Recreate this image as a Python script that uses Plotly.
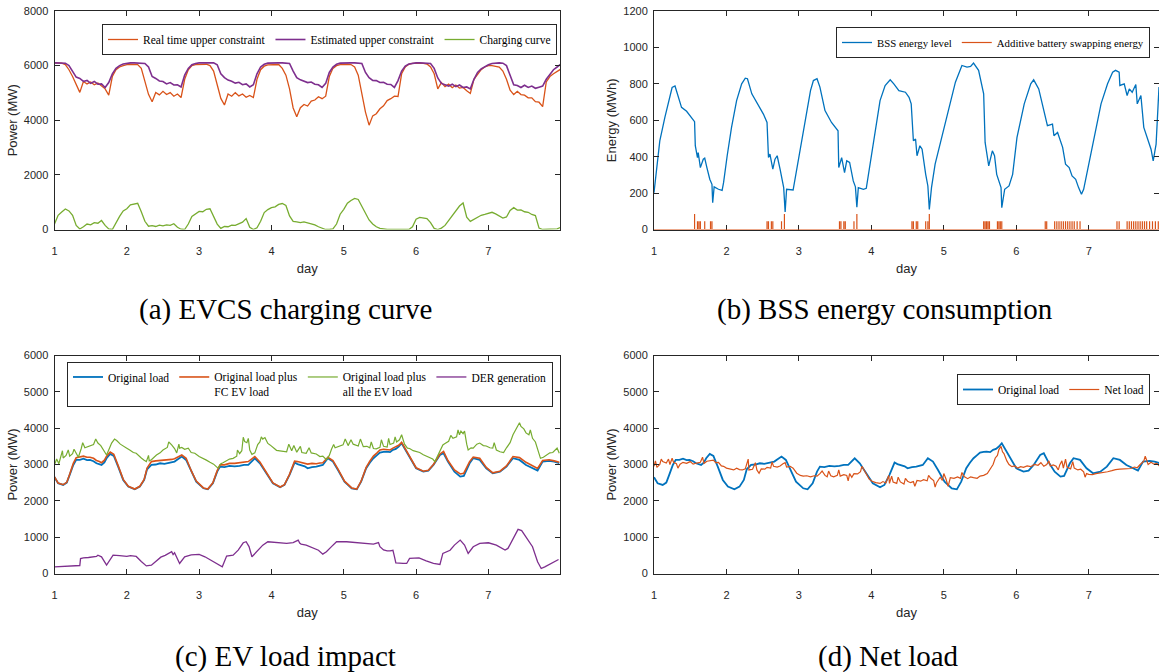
import plotly.graph_objects as go

# ---------------- (a) EVCS charging curve ----------------
# samples every 0.05 day from day 1.00 to day 8.00 (rows of half a day)
day_a = [round(1 + 0.05 * k, 2) for k in range(141)]

real_upper = [
    6100, 6100, 6090, 6040, 5850, 5600, 5300, 5020, 5420, 5330,
    5400, 5300, 5360, 5240, 5150, 4920, 5600, 5850, 5950, 6000,
    6040, 6050, 6050, 6040, 5900, 5400, 4950, 4680, 5020, 4930,
    5060, 4940, 5010, 4880, 4960, 4830, 5500, 5850, 6000, 6040,
    6050, 6050, 6050, 6000, 5800, 5300, 4800, 4560, 4960, 4880,
    5010, 4890, 4960, 4840, 4910, 4830, 5500, 5850, 5980, 6030,
    6040, 6050, 6040, 5900, 5650, 5150, 4450, 4130, 4460, 4580,
    4520, 4700, 4740, 4860, 4790, 4880, 5600, 5900, 6000, 6040,
    6050, 6050, 6040, 5950, 5650, 5000, 4300, 3820, 4160, 4240,
    4420, 4530, 4720, 4790, 4880, 4870, 5700, 5950, 6050, 6080,
    6090, 6090, 6080, 6060, 5950, 5700, 5150, 5380, 5230, 5320,
    5190, 5290, 5180, 5200, 5080, 4980, 5500, 5700, 5850, 5950,
    6000, 6000, 5980, 5950, 5800, 5500, 5100, 4940, 5060, 4940,
    4920, 4820, 4820, 4680, 4660, 4500, 5400, 5600, 5700, 5800,
    5870,
]

est_upper = [
    6100, 6100, 6100, 6090, 6000, 5780, 5580, 5530, 5420, 5460,
    5350, 5420, 5320, 5330, 5200, 5380, 5700, 5900, 6000, 6060,
    6090, 6100, 6100, 6100, 6100, 6080, 5950, 5600, 5530, 5440,
    5420, 5330, 5380, 5290, 5300, 5220, 5650, 5900, 6030, 6080,
    6100, 6100, 6100, 6100, 6100, 6030, 5700, 5560, 5470, 5430,
    5360, 5390, 5300, 5330, 5220, 5300, 5700, 5950, 6050, 6090,
    6100, 6100, 6100, 6100, 6100, 6080, 5800, 5560, 5480, 5430,
    5380, 5400, 5320, 5300, 5200, 5350, 5750, 5950, 6050, 6090,
    6100, 6100, 6100, 6100, 6100, 6080, 5750, 5560, 5460, 5450,
    5380, 5390, 5320, 5310, 5200, 5450, 5800, 5980, 6060, 6090,
    6100, 6100, 6100, 6100, 6080, 5900, 5550, 5350, 5310, 5250,
    5320, 5230, 5290, 5200, 5220, 5150, 5500, 5750, 5880, 5960,
    6030, 6080, 6100, 6100, 6090, 6000, 5650, 5300, 5270, 5200,
    5280, 5200, 5250, 5170, 5210, 5250, 5500, 5700, 5850, 5950,
    6050,
]

charging = [
    200, 520, 640, 750, 680, 520, 150, 20, 100, 200,
    170, 250, 230, 330, 150, 20, 0, 260, 480, 680,
    760, 900, 930, 960, 650, 300, 120, 140, 110, 160,
    130, 170, 150, 210, 80, 10, 0, 200, 480, 560,
    660, 650, 740, 760, 500, 200, 40, 110, 100, 160,
    150, 220, 270, 400, 80, 0, 60, 300, 620, 730,
    800, 830, 920, 950, 880, 500, 300, 280, 250, 280,
    240, 200, 170, 100, 50, 0, 0, 20, 200, 560,
    740, 960, 1060, 1140, 1100, 850, 600, 350, 200, 100,
    40, 10, 0, 0, 0, 0, 0, 0, 0, 100,
    380, 440, 410, 400, 250, 40, 0, 50, 150, 330,
    520, 680, 860, 970, 450, 300, 380, 430, 520, 550,
    600, 630, 570, 500, 420, 460, 700, 800, 710, 720,
    650, 630, 550, 510, 50, 0, 0, 0, 0, 20,
    80,
]

# ---------------- (b) BSS energy consumption ----------------
bss_day = [
    1.00, 1.04, 1.08, 1.15, 1.22, 1.25, 1.29, 1.34, 1.38, 1.45,
    1.50, 1.56, 1.57, 1.60, 1.61, 1.64, 1.68, 1.70, 1.73, 1.77,
    1.80, 1.81, 1.83, 1.89, 1.94, 1.96, 2.01, 2.07, 2.14, 2.21,
    2.26, 2.29, 2.35, 2.42, 2.51, 2.56, 2.58, 2.60, 2.64, 2.67,
    2.70, 2.74, 2.79, 2.81, 2.83, 2.92, 2.95, 3.01, 3.09, 3.16,
    3.20, 3.25, 3.29, 3.36, 3.45, 3.54, 3.55, 3.59, 3.63, 3.66,
    3.70, 3.75, 3.78, 3.80, 3.82, 3.89, 3.93, 3.99, 4.06, 4.12,
    4.19, 4.26, 4.31, 4.38, 4.47, 4.52, 4.55, 4.58, 4.61, 4.63,
    4.67, 4.70, 4.75, 4.78, 4.80, 4.83, 4.88, 4.95, 5.05, 5.16,
    5.25, 5.32, 5.37, 5.41, 5.48, 5.55, 5.57, 5.62, 5.67, 5.70,
    5.73, 5.79, 5.80, 5.84, 5.90, 5.95, 6.01, 6.11, 6.20, 6.24,
    6.31, 6.36, 6.41, 6.43, 6.50, 6.52, 6.57, 6.64, 6.68, 6.73,
    6.77, 6.82, 6.86, 6.90, 6.93, 7.00, 7.07, 7.17, 7.26, 7.33,
    7.37, 7.42, 7.43, 7.49, 7.53, 7.56, 7.60, 7.65, 7.67, 7.72,
    7.76, 7.81, 7.86, 7.89, 7.93, 7.97,
]
bss_energy = [
    202, 340, 487, 616, 726, 780, 788, 726, 671, 649,
    625, 592, 460, 395, 423, 340, 386, 392, 340, 276,
    248, 147, 234, 221, 215, 257, 405, 561, 708, 800,
    831, 828, 745, 699, 634, 588, 395, 414, 331, 386,
    405, 331, 230, 97, 221, 217, 285, 414, 616, 763,
    818, 828, 782, 653, 588, 542, 340, 395, 313, 377,
    368, 267, 234, 123, 230, 221, 226, 377, 561, 708,
    791, 822, 800, 763, 754, 726, 690, 487, 497, 405,
    460, 441, 303, 239, 110, 230, 359, 469, 634, 809,
    901, 892, 896, 914, 874, 745, 478, 349, 432, 405,
    303, 230, 120, 221, 239, 303, 506, 690, 800, 822,
    772, 690, 616, 570, 579, 515, 533, 451, 359, 340,
    294, 276, 230, 193, 221, 359, 506, 690, 800, 864,
    874, 864, 791, 800, 736, 772, 754, 796, 690, 736,
    561, 497, 441, 377, 469, 782,
]

# times (day) and sizes (MWh) of the additive battery swapping pulses
swap_day = [
    1.56, 1.60, 1.62, 1.64, 1.70, 1.78, 1.80,
    2.56, 2.58, 2.62, 2.64, 2.76, 2.80,
    3.56, 3.58, 3.62, 3.64, 3.76, 3.80,
    4.56, 4.58, 4.62, 4.64, 4.75, 4.78, 4.80,
    5.55, 5.57, 5.59, 5.61, 5.63, 5.74, 5.76, 5.78, 5.80,
    6.40, 6.42, 6.53, 6.56, 6.59, 6.62, 6.65, 6.68, 6.71, 6.74, 6.77, 6.80, 6.84, 6.88,
    7.39, 7.42, 7.53, 7.56, 7.59, 7.62, 7.65, 7.68, 7.71, 7.74, 7.77, 7.80, 7.84, 7.88, 7.92, 7.96,
]
swap_energy = [
    85, 45, 45, 45, 45, 45, 45,
    45, 45, 45, 45, 45, 85,
    45, 45, 45, 45, 45, 85,
    45, 45, 45, 45, 45, 45, 85,
    45, 45, 45, 45, 45, 45, 45, 45, 45,
    45, 45, 45, 45, 45, 45, 45, 45, 45, 45, 45, 45, 45, 45,
    45, 45, 45, 45, 45, 45, 45, 45, 45, 45, 45, 45, 45, 45, 45, 45,
]

# ---------------- (c) EV load impact / (d) net load ----------------
load_day = [
    1.00, 1.05, 1.12, 1.17, 1.21, 1.26, 1.30, 1.35, 1.40, 1.45,
    1.49, 1.54, 1.58, 1.62, 1.65, 1.69, 1.72, 1.77, 1.82, 1.88,
    1.95, 2.02, 2.11, 2.18, 2.24, 2.28, 2.34, 2.40, 2.46, 2.52,
    2.57, 2.62, 2.66, 2.71, 2.76, 2.82, 2.89, 2.96, 3.06, 3.12,
    3.19, 3.25, 3.29, 3.35, 3.42, 3.49, 3.56, 3.62, 3.68, 3.77,
    3.84, 3.93, 4.02, 4.12, 4.18, 4.25, 4.32, 4.36, 4.41, 4.46,
    4.50, 4.56, 4.62, 4.67, 4.71, 4.78, 4.85, 4.92, 5.01, 5.11,
    5.18, 5.24, 5.31, 5.36, 5.41, 5.46, 5.50, 5.55, 5.59, 5.64,
    5.68, 5.72, 5.76, 5.80, 5.84, 5.91, 6.00, 6.10, 6.17, 6.24,
    6.33, 6.38, 6.44, 6.53, 6.61, 6.66, 6.74, 6.79, 6.88, 6.97,
    7.06, 7.16, 7.25, 7.34, 7.43, 7.52, 7.61, 7.68, 7.75, 7.84,
    7.91, 7.98,
]
original_load = [
    2648, 2483, 2437, 2501, 2713, 2988, 3126, 3130, 3160, 3120,
    3126, 3090, 3034, 3010, 2988, 3060, 3172, 3292, 3237, 2942,
    2575, 2391, 2317, 2391, 2575, 2869, 2988, 3000, 3034, 3020,
    3034, 3060, 3080, 3150, 3218, 3126, 2804, 2529, 2345, 2317,
    2483, 2804, 2942, 2930, 2961, 2950, 2960, 2990, 2988, 3172,
    3034, 2758, 2483, 2372, 2437, 2713, 3053, 3010, 2988, 2950,
    2896, 2930, 2942, 2960, 2988, 3172, 3080, 2850, 2529, 2345,
    2317, 2529, 2896, 3050, 3172, 3260, 3329, 3350, 3356, 3340,
    3402, 3430, 3494, 3586, 3448, 3172, 2896, 2804, 2832, 2988,
    3264, 3310, 3080, 2804, 2667, 2685, 3034, 3172, 3126, 2896,
    2758, 2804, 2942, 3172, 3126, 2988, 2896, 2832, 3080, 3099,
    3080, 3034,
]
load_plus_fc = [
    2660, 2490, 2445, 2510, 2730, 3030, 3190, 3210, 3230, 3200,
    3200, 3170, 3110, 3080, 3050, 3120, 3230, 3340, 3280, 2970,
    2590, 2400, 2325, 2400, 2590, 2900, 3080, 3100, 3110, 3110,
    3130, 3140, 3160, 3210, 3260, 3170, 2830, 2545, 2355, 2325,
    2495, 2830, 2990, 2990, 3030, 3030, 3050, 3070, 3080, 3220,
    3070, 2780, 2495, 2380, 2445, 2730, 3090, 3080, 3060, 3040,
    3010, 3030, 3020, 3040, 3050, 3200, 3110, 2870, 2540, 2355,
    2325, 2540, 2920, 3090, 3230, 3320, 3400, 3420, 3420, 3400,
    3450, 3480, 3530, 3610, 3470, 3190, 2910, 2815, 2840, 3000,
    3290, 3360, 3110, 2850, 2740, 2760, 3080, 3200, 3170, 2920,
    2770, 2815, 2960, 3220, 3190, 3060, 2960, 2890, 3110, 3130,
    3100, 3060,
]

ev_day = [
    1.00, 1.03, 1.06, 1.09, 1.12, 1.16, 1.21, 1.25, 1.30, 1.33,
    1.37, 1.42, 1.49, 1.54, 1.60, 1.64, 1.67, 1.72, 1.76, 1.79,
    1.83, 1.86, 1.91, 1.95, 2.00, 2.04, 2.09, 2.13, 2.17, 2.20,
    2.24, 2.27, 2.31, 2.34, 2.41, 2.46, 2.50, 2.56, 2.62, 2.66,
    2.69, 2.73, 2.76, 2.80, 2.85, 2.89, 2.94, 3.00, 3.06, 3.10,
    3.15, 3.20, 3.26, 3.30, 3.33, 3.42, 3.47, 3.52, 3.56, 3.59,
    3.63, 3.66, 3.68, 3.70, 3.73, 3.77, 3.81, 3.84, 3.88, 3.91,
    3.95, 3.98, 4.03, 4.07, 4.14, 4.21, 4.28, 4.35, 4.42, 4.48,
    4.55, 4.62, 4.67, 4.71, 4.76, 4.80, 4.83, 4.88, 4.93, 4.99,
    5.06, 5.13, 5.20, 5.27, 5.32, 5.36, 5.41, 5.45, 5.50, 5.55,
    5.60, 5.64, 5.69, 5.73, 5.77, 5.80, 5.82, 5.84, 5.88, 5.91,
    5.96, 6.00, 6.05, 6.10, 6.15, 6.19, 6.23, 6.26, 6.30, 6.33,
    6.37, 6.40, 6.45, 6.51, 6.56, 6.60, 6.62, 6.65, 6.67, 6.70,
    6.72, 6.76, 6.79, 6.84, 6.88, 6.93, 6.97, 7.02, 7.06, 7.11,
    7.16, 7.21, 7.25, 7.30, 7.34, 7.38, 7.41, 7.45, 7.49, 7.52,
    7.56, 7.61, 7.65, 7.68, 7.72, 7.76, 7.80, 7.85, 7.89, 7.93,
    7.98,
]
load_plus_all_ev = [
    2990, 3150, 3020, 3200, 3180, 3250, 3230, 3300, 3310, 3200,
    3440, 3460, 3500, 3550, 3590, 3520, 3420, 3260, 3450, 3590,
    3700, 3660, 3560, 3520, 3450, 3400, 3330, 3310, 3220, 3180,
    3120, 3080, 3100, 3130, 3260, 3320, 3400, 3470, 3540, 3440,
    3320, 3450, 3470, 3420, 3450, 3330, 3310, 3220, 3170, 3120,
    3060, 3010, 2900, 3020, 3050, 3150, 3170, 3230, 3300, 3380,
    3630, 3600, 3720, 3400, 3280, 3320, 3550, 3620, 3700, 3740,
    3580, 3540, 3450, 3390, 3370, 3350, 3380, 3340, 3330, 3310,
    3320, 3290, 3220, 3230, 3130, 3250, 3420, 3460, 3500, 3540,
    3520, 3560, 3510, 3490, 3500, 3460, 3440, 3430, 3470, 3500,
    3480, 3550, 3590, 3620, 3680, 3820, 3650, 3560, 3450, 3440,
    3380, 3350, 3330, 3270, 3230, 3180, 3150, 3080, 3250, 3400,
    3540, 3580, 3640, 3720, 3760, 3820, 3920, 3850, 3920, 3560,
    3400, 3460, 3450, 3560, 3590, 3520, 3510, 3460, 3450, 3400,
    3350, 3330, 3460, 3600, 3820, 3960, 4100, 4050, 3980, 3870,
    3820, 3720, 3620, 3420, 3170, 3200, 3250, 3320, 3330, 3400,
    3310,
]
# short upward bursts riding on the all-EV load curve
ev_burst_day = [
    1.11, 1.19, 1.27, 1.39, 1.57, 2.30, 2.58, 2.72, 3.53, 3.61,
    3.86, 4.24, 4.31, 4.40, 4.52, 4.86, 5.02, 5.10, 5.23, 5.38,
    5.52, 5.62, 5.71, 6.48, 6.58, 7.08, 7.43, 7.58, 7.95,
]
ev_burst_load = [
    3380, 3400, 3420, 3600, 3700, 3250, 3620, 3560, 3400, 3750,
    3760, 3560, 3520, 3500, 3460, 3550, 3700, 3680, 3700, 3620,
    3680, 3720, 3760, 3800, 3950, 3600, 4150, 3950, 3450,
]

der_day = [
    1.00, 1.17, 1.35, 1.36, 1.40, 1.47, 1.53, 1.58, 1.60, 1.65,
    1.72, 1.77, 1.81, 1.90, 2.00, 2.05, 2.09, 2.13, 2.20, 2.27,
    2.34, 2.41, 2.47, 2.53, 2.58, 2.62, 2.64, 2.66, 2.73, 2.80,
    2.89, 3.00, 3.08, 3.17, 3.24, 3.32, 3.38, 3.47, 3.54, 3.61,
    3.65, 3.69, 3.73, 3.79, 3.88, 3.95, 4.07, 4.21, 4.30, 4.37,
    4.39, 4.41, 4.48, 4.58, 4.65, 4.71, 4.76, 4.83, 4.90, 5.04,
    5.18, 5.31, 5.41, 5.48, 5.50, 5.55, 5.60, 5.64, 5.68, 5.70,
    5.72, 5.82, 5.87, 5.91, 6.00, 6.04, 6.14, 6.24, 6.33, 6.37,
    6.47, 6.53, 6.61, 6.67, 6.72, 6.79, 6.88, 7.00, 7.11, 7.23,
    7.27, 7.34, 7.41, 7.46, 7.52, 7.61, 7.68, 7.73, 7.78, 7.87,
    7.97,
]
der_generation = [
    184, 200, 220, 410, 430, 440, 460, 470, 505, 460,
    230, 370, 505, 490, 470, 490, 480, 470, 330, 210,
    230, 360, 450, 500, 560, 600, 520, 570, 276, 460,
    510, 524, 460, 350, 260, 184, 478, 505, 644, 846,
    874, 740, 460, 600, 780, 874, 850, 830, 850, 920,
    840, 810, 780, 690, 640, 533, 600, 740, 874, 874,
    850, 830, 810, 850, 740, 650, 620, 620, 640, 470,
    294, 276, 276, 414, 430, 430, 350, 276, 248, 552,
    640, 782, 920, 782, 552, 736, 828, 846, 782, 644,
    690, 965, 1214, 1180, 1010, 736, 322, 138, 184, 276,
    386,
]

net_day = [
    1.00, 1.02, 1.04, 1.08, 1.12, 1.17, 1.20, 1.22, 1.27, 1.31,
    1.36, 1.40, 1.45, 1.50, 1.54, 1.59, 1.64, 1.67, 1.69, 1.73,
    1.77, 1.82, 1.85, 1.89, 1.93, 1.96, 2.00, 2.05, 2.10, 2.14,
    2.18, 2.22, 2.26, 2.30, 2.31, 2.36, 2.42, 2.48, 2.53, 2.56,
    2.61, 2.65, 2.70, 2.74, 2.78, 2.81, 2.83, 2.88, 2.92, 2.97,
    3.02, 3.06, 3.11, 3.16, 3.21, 3.25, 3.29, 3.32, 3.36, 3.39,
    3.44, 3.48, 3.53, 3.57, 3.62, 3.66, 3.70, 3.73, 3.76, 3.81,
    3.85, 3.89, 3.92, 3.94, 3.97, 4.01, 4.06, 4.12, 4.16, 4.20,
    4.24, 4.25, 4.30, 4.35, 4.40, 4.45, 4.50, 4.54, 4.58, 4.63,
    4.68, 4.72, 4.77, 4.82, 4.86, 4.90, 4.95, 4.98, 5.03, 5.09,
    5.14, 5.19, 5.23, 5.28, 5.33, 5.37, 5.41, 5.46, 5.50, 5.55,
    5.60, 5.65, 5.68, 5.71, 5.74, 5.76, 5.79, 5.81, 5.83, 5.87,
    5.90, 5.94, 5.98, 6.02, 6.06, 6.10, 6.15, 6.20, 6.25, 6.30,
    6.34, 6.38, 6.42, 6.47, 6.51, 6.55, 6.60, 6.63, 6.65, 6.70,
    6.75, 6.80, 6.85, 6.89, 6.93, 6.97, 7.00, 7.05, 7.10, 7.15,
    7.20, 7.26, 7.32, 7.37, 7.43, 7.48, 7.53, 7.58, 7.63, 7.67,
    7.71, 7.74, 7.76, 7.79, 7.82, 7.86, 7.90, 7.94, 7.98,
]
net_load = [
    2950, 3100, 2920, 3000, 3080, 3040, 3150, 3000, 3060, 3020,
    3010, 3060, 3030, 3080, 3010, 3040, 3060, 3200, 3030, 3090,
    3110, 3120, 3050, 3060, 2960, 2950, 2900, 2880, 2850, 2900,
    2860, 2850, 2880, 3150, 2850, 2870, 2850, 2880, 2870, 2920,
    2900, 2950, 2930, 2960, 3020, 3050, 2930, 2950, 2900, 2760,
    2700, 2680, 2690, 2660, 2690, 2680, 2750, 2820, 2700, 2660,
    2690, 2660, 2700, 2680, 2720, 2700, 2750, 2650, 2750, 2740,
    2800, 2880, 2780, 2700, 2600, 2540, 2500, 2480, 2530, 2490,
    2700, 2480, 2520, 2480, 2520, 2460, 2540, 2500, 2530, 2560,
    2540, 2580, 2550, 2620, 2560, 2500, 2650, 2560, 2600, 2640,
    2620, 2660, 2620, 2670, 2610, 2660, 2640, 2620, 2680, 2700,
    2750, 2900, 3000, 3180, 3250, 3410, 3500, 3350, 3300, 3100,
    3000, 2940, 2960, 2900, 2940, 2920, 2960, 2940, 3000, 2980,
    3050, 2950, 3000, 2960, 2990, 2950, 2990, 3100, 2900, 2930,
    2880, 2900, 2850, 2870, 2800, 2750, 2730, 2720, 2750, 2760,
    2780, 2800, 2830, 2860, 2870, 2880, 2900, 2890, 2930, 2910,
    3000, 3050, 3090, 3160, 3000, 3060, 3010, 3030, 2950,
]
# isolated spikes on the net load
net_spike_day = [
    1.10, 1.25, 1.33, 2.40, 2.45, 2.63, 3.41, 3.55, 3.68, 3.87,
    4.28, 4.37, 4.47, 4.60, 4.79, 4.88, 5.00, 5.06, 5.25, 6.45,
    6.58, 6.68, 6.78, 6.95, 7.78,
]
net_spike_load = [
    3150, 3170, 2900, 3050, 2760, 3070, 2820, 2850, 2550, 2950,
    2680, 2650, 2620, 2400, 2700, 2380, 2750, 2400, 2780, 3100,
    2850, 3150, 3080, 2650, 3230,
]

# ---------------- styling ----------------
BLUE, ORANGE, GREEN, PURPLE = "#0072BD", "#D95319", "#77AC30", "#7E2F8E"
INK = "#262626"
SANS = "Liberation Sans, Arial, sans-serif"
SERIF = "Liberation Serif, Times New Roman, serif"
TICK_FONT = dict(family=SANS, size=11, color=INK)
TITLE_FONT = dict(family=SANS, size=13, color=INK)

W, H = 1159, 672
LEFT_COL = [54.5 / W, 560 / W]
RIGHT_COL = [654 / W, 1.0]
TOP_ROW = [1 - 229.5 / H, 1 - 11 / H]
BOTTOM_ROW = [1 - 573.5 / H, 1 - 355.5 / H]


def x_axis(domain, anchor, end, layer="above traces"):
    return dict(
        domain=domain, anchor=anchor, range=[1, end], tickvals=[1, 2, 3, 4, 5, 6, 7],
        ticks="inside", ticklen=5, tickcolor=INK, showline=True, mirror="ticks",
        linecolor=INK, linewidth=1, showgrid=False, zeroline=False,
        tickfont=TICK_FONT, ticklabelstandoff=11, layer=layer, automargin=False,
        title=dict(text="day", font=TITLE_FONT, standoff=8),
    )


def y_axis(domain, anchor, top, step, label):
    return dict(
        domain=domain, anchor=anchor, range=[0, top],
        tickvals=list(range(0, top + 1, step)),
        ticks="inside", ticklen=5, tickcolor=INK, showline=True, mirror="ticks",
        linecolor=INK, linewidth=1, showgrid=False, zeroline=False,
        tickfont=TICK_FONT, ticklabelstandoff=3, automargin=False,
        title=dict(text=label, font=TITLE_FONT, standoff=3),
    )


def legend_box(x_px, y_px, size=11.5, valign="middle"):
    return dict(
        x=x_px / W, y=1 - y_px / H, xanchor="right", yanchor="top",
        orientation="h", bgcolor="white", bordercolor=INK, borderwidth=1,
        font=dict(family=SERIF, size=size, color="black"),
        traceorder="normal", valign=valign,
    )


def line(x, y, name, color, xa, ya, legend, width=1.2):
    return go.Scatter(
        x=x, y=y, name=name, mode="lines", line=dict(color=color, width=width),
        xaxis=xa, yaxis=ya, legend=legend, hoverinfo="skip",
    )


def merged(base_x, base_y, extra_x, extra_y):
    pts = sorted(zip(list(base_x) + list(extra_x), list(base_y) + list(extra_y)))
    return [p[0] for p in pts], [p[1] for p in pts]


# thin vertical pulses for the swapping energy series on a zero baseline
swap_x, swap_y = [1.0], [0]
for t, e in zip(swap_day, swap_energy):
    swap_x += [t, t, t]
    swap_y += [0, e, 0]
swap_x.append(8.0)
swap_y.append(0)

ev_x, ev_y = merged(ev_day, load_plus_all_ev, ev_burst_day, ev_burst_load)
net_x, net_y = merged(net_day, net_load, net_spike_day, net_spike_load)

fig = go.Figure()

# (a)
fig.add_trace(line(day_a, real_upper, "Real time upper constraint", ORANGE, "x", "y", "legend", 1.3))
fig.add_trace(line(day_a, est_upper, "Estimated upper constraint", PURPLE, "x", "y", "legend", 1.6))
fig.add_trace(line(day_a, charging, "Charging curve", GREEN, "x", "y", "legend", 1.3))

# (b)
fig.add_trace(line(bss_day, bss_energy, "BSS energy level", BLUE, "x2", "y2", "legend2", 1.3))
fig.add_trace(line(swap_x, swap_y, "Additive battery swapping energy", ORANGE, "x2", "y2", "legend2", 1.2))

# (c)
fig.add_trace(line(load_day, original_load, "Original load", BLUE, "x3", "y3", "legend3", 1.8))
fig.add_trace(line(load_day, load_plus_fc, "Original load plus<br>FC EV load", ORANGE, "x3", "y3", "legend3", 1.6))
fig.add_trace(line(ev_x, ev_y, "Original load plus<br>all the EV load", GREEN, "x3", "y3", "legend3", 1.2))
fig.add_trace(line(der_day, der_generation, "DER generation", PURPLE, "x3", "y3", "legend3", 1.3))

# (d)
fig.add_trace(line(load_day, original_load, "Original load", BLUE, "x4", "y4", "legend4", 1.8))
fig.add_trace(line(net_x, net_y, "Net load", ORANGE, "x4", "y4", "legend4", 1.2))

captions = [
    ("(a) EVCS charging curve", 285, 309),
    ("(b) BSS energy consumption", 885, 309),
    ("(c) EV load impact", 285, 656),
    ("(d) Net load", 888, 656),
]

fig.update_layout(
    width=W, height=H, autosize=False,
    margin=dict(l=0, r=0, t=0, b=0, pad=0, autoexpand=False),
    paper_bgcolor="white", plot_bgcolor="white",
    xaxis=x_axis(LEFT_COL, "y", 7.99),
    yaxis=y_axis(TOP_ROW, "x", 8000, 2000, "Power (MW)"),
    xaxis2=x_axis(RIGHT_COL, "y2", 7.97, layer="below traces"),
    yaxis2=y_axis(TOP_ROW, "x2", 1200, 200, "Energy (MWh)"),
    xaxis3=x_axis(LEFT_COL, "y3", 7.99),
    yaxis3=y_axis(BOTTOM_ROW, "x3", 6000, 1000, "Power (MW)"),
    xaxis4=x_axis(RIGHT_COL, "y4", 7.97),
    yaxis4=y_axis(BOTTOM_ROW, "x4", 6000, 1000, "Power (MW)"),
    legend=legend_box(557, 24),
    legend2=legend_box(1150, 27, size=10.8),
    legend3=legend_box(553, 362, size=11.5, valign="top"),
    legend4=legend_box(1150, 374),
    annotations=[
        dict(text=t, x=cx / W, y=1 - cy / H, xref="paper", yref="paper",
             xanchor="center", yanchor="middle", showarrow=False,
             font=dict(family=SERIF, size=29, color="black"))
        for t, cx, cy in captions
    ],
)

fig.write_html("out.html", config={"displayModeBar": False})
